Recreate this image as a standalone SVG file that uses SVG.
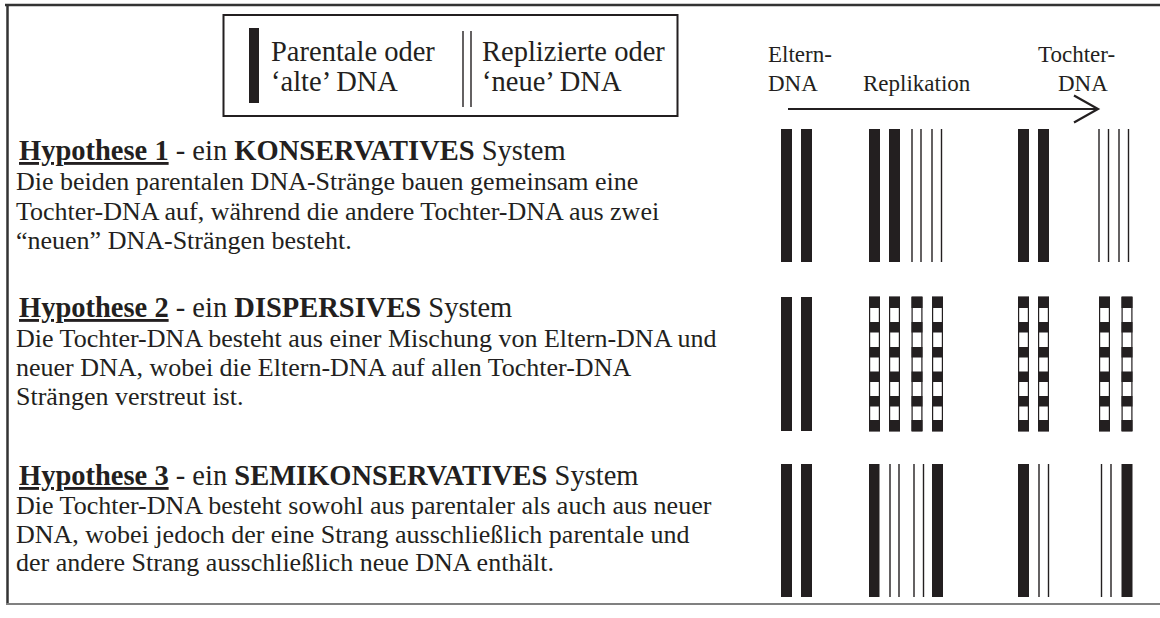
<svg xmlns="http://www.w3.org/2000/svg" xmlns:xlink="http://www.w3.org/1999/xlink" width="1160" height="618" viewBox="0 0 1160 618">
  <style>
    .txt { font-family: "Liberation Serif", "Times New Roman", serif; fill: #231f20; }
    .legend { font-size: 28.5px; }
    .head { font-size: 23px; }
    .title { font-size: 28.5px; }
    .body { font-size: 26px; }
    .b { font-weight: bold; }
    .u { text-decoration: underline; }
    .old { fill: #231f20; }
    .new { stroke: #231f20; stroke-width: 1.4; fill: none; }
    .frame { stroke: #333; stroke-width: 2.5; fill: none; }
  </style>
  <defs>
    <!-- dispersive strand: new DNA interrupted by blocks of parental DNA -->
    <g id="disp">
      <rect x="0.6" y="0" width="9.8" height="134" fill="#fff" stroke="#231f20" stroke-width="1.2"/>
      <rect x="0" y="0" width="11" height="11" class="old"/>
      <rect x="0" y="25" width="11" height="10.5" class="old"/>
      <rect x="0" y="50" width="11" height="10.5" class="old"/>
      <rect x="0" y="74.5" width="11" height="10.5" class="old"/>
      <rect x="0" y="99" width="11" height="10.5" class="old"/>
      <rect x="0" y="123" width="11" height="11" class="old"/>
    </g>
  </defs>

  <rect width="1160" height="618" fill="#fff"/>

  <!-- outer frame -->
  <g id="frame">
    <line x1="5" y1="5" x2="1160" y2="5" class="frame"/>
    <line x1="7.5" y1="4" x2="7.5" y2="605" class="frame"/>
    <line x1="6" y1="604" x2="1160" y2="604" stroke="#808080" stroke-width="2"/>
  </g>

  <!-- legend -->
  <g id="legend">
    <rect x="223.5" y="15" width="454" height="101" fill="none" stroke="#231f20" stroke-width="2"/>
    <rect x="249" y="28" width="10" height="75" class="old"/>
    <text class="txt legend" x="271" y="61">Parentale oder</text>
    <text class="txt legend" x="271" y="91">‘alte’ DNA</text>
    <line x1="463" y1="31" x2="463" y2="107" class="new"/>
    <line x1="471" y1="31" x2="471" y2="107" class="new"/>
    <text class="txt legend" x="482" y="61">Replizierte oder</text>
    <text class="txt legend" x="482" y="91">‘neue’ DNA</text>
  </g>

  <!-- column header with replication arrow -->
  <g id="header">
    <text class="txt head" x="768" y="62">Eltern-</text>
    <text class="txt head" x="768" y="91">DNA</text>
    <text class="txt head" x="863" y="91">Replikation</text>
    <text class="txt head" x="1038" y="62">Tochter-</text>
    <text class="txt head" x="1058" y="91">DNA</text>
  </g>
  <g id="connectors">
    <line x1="788" y1="109" x2="1097" y2="109" stroke="#231f20" stroke-width="2.2"/>
    <polyline points="1074,95.5 1098,109 1074,122.5" fill="none" stroke="#231f20" stroke-width="2.2"/>
  </g>

  <!-- hypothesis 1: conservative -->
  <g id="hyp1-text">
    <text class="txt title" x="19" y="160"><tspan class="b u">Hypothese 1</tspan> - ein <tspan class="b">KONSERVATIVES</tspan> System</text>
    <text class="txt body" x="16" y="190">Die beiden parentalen DNA-Stränge bauen gemeinsam eine</text>
    <text class="txt body" x="16" y="219.5">Tochter-DNA auf, während die andere Tochter-DNA aus zwei</text>
    <text class="txt body" x="16" y="249">“neuen” DNA-Strängen besteht.</text>
  </g>
  <g id="hyp1-strands">
    <rect x="781" y="129" width="11" height="133" class="old"/>
    <rect x="801" y="129" width="11" height="133" class="old"/>
    <rect x="869" y="129" width="11" height="133" class="old"/>
    <rect x="889" y="129" width="11" height="133" class="old"/>
    <line x1="912" y1="129" x2="912" y2="262" class="new"/>
    <line x1="921" y1="129" x2="921" y2="262" class="new"/>
    <line x1="932" y1="129" x2="932" y2="262" class="new"/>
    <line x1="941.5" y1="129" x2="941.5" y2="262" class="new"/>
    <rect x="1018" y="129" width="11" height="133" class="old"/>
    <rect x="1038" y="129" width="11" height="133" class="old"/>
    <line x1="1099" y1="129" x2="1099" y2="262" class="new"/>
    <line x1="1108.5" y1="129" x2="1108.5" y2="262" class="new"/>
    <line x1="1119" y1="129" x2="1119" y2="262" class="new"/>
    <line x1="1128.5" y1="129" x2="1128.5" y2="262" class="new"/>
  </g>

  <!-- hypothesis 2: dispersive -->
  <g id="hyp2-text">
    <text class="txt title" x="19" y="317"><tspan class="b u">Hypothese 2</tspan> - ein <tspan class="b">DISPERSIVES</tspan> System</text>
    <text class="txt body" x="16" y="347">Die Tochter-DNA besteht aus einer Mischung von Eltern-DNA und</text>
    <text class="txt body" x="16" y="376">neuer DNA, wobei die Eltern-DNA auf allen Tochter-DNA</text>
    <text class="txt body" x="16" y="405">Strängen verstreut ist.</text>
  </g>
  <g id="hyp2-strands">
    <rect x="781" y="297" width="11" height="134" class="old"/>
    <rect x="801" y="297" width="11" height="134" class="old"/>
    <use xlink:href="#disp" x="869" y="297"/>
    <use xlink:href="#disp" x="889" y="297"/>
    <use xlink:href="#disp" x="911.5" y="297"/>
    <use xlink:href="#disp" x="932" y="297"/>
    <use xlink:href="#disp" x="1018" y="297"/>
    <use xlink:href="#disp" x="1038" y="297"/>
    <use xlink:href="#disp" x="1099" y="297"/>
    <use xlink:href="#disp" x="1121.5" y="297"/>
  </g>

  <!-- hypothesis 3: semiconservative -->
  <g id="hyp3-text">
    <text class="txt title" x="19" y="485"><tspan class="b u">Hypothese 3</tspan> - ein <tspan class="b">SEMIKONSERVATIVES</tspan> System</text>
    <text class="txt body" x="16" y="514">Die Tochter-DNA besteht sowohl aus parentaler als auch aus neuer</text>
    <text class="txt body" x="16" y="542.5">DNA, wobei jedoch der eine Strang ausschließlich parentale und</text>
    <text class="txt body" x="16" y="571">der andere Strang ausschließlich neue DNA enthält.</text>
  </g>
  <g id="hyp3-strands">
    <rect x="781" y="464" width="11" height="133" class="old"/>
    <rect x="801" y="464" width="11" height="133" class="old"/>
    <rect x="869" y="464" width="10.5" height="133" class="old"/>
    <line x1="890" y1="464" x2="890" y2="597" class="new"/>
    <line x1="899" y1="464" x2="899" y2="597" class="new"/>
    <line x1="914" y1="464" x2="914" y2="597" class="new"/>
    <line x1="923.5" y1="464" x2="923.5" y2="597" class="new"/>
    <rect x="932" y="464" width="11" height="133" class="old"/>
    <rect x="1018" y="464" width="11" height="133" class="old"/>
    <line x1="1039" y1="464" x2="1039" y2="597" class="new"/>
    <line x1="1048.5" y1="464" x2="1048.5" y2="597" class="new"/>
    <line x1="1101.5" y1="464" x2="1101.5" y2="597" class="new"/>
    <line x1="1111" y1="464" x2="1111" y2="597" class="new"/>
    <rect x="1121.5" y="464" width="11" height="133" class="old"/>
  </g>
</svg>
